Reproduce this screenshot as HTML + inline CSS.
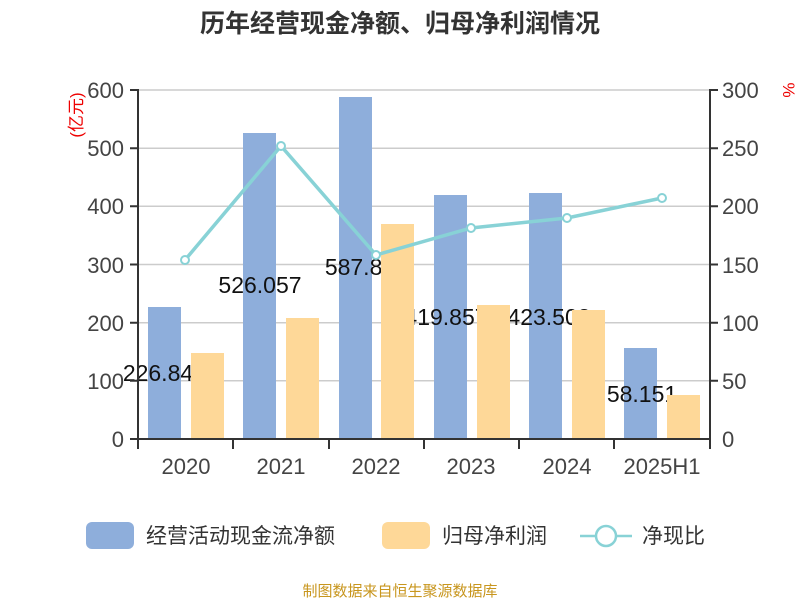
<!DOCTYPE html>
<html><head><meta charset="utf-8"><style>body{margin:0;background:#fff}svg{display:block}</style></head><body>
<svg width="800" height="600" xmlns="http://www.w3.org/2000/svg" font-family="Liberation Sans, Noto Sans CJK SC, sans-serif">
<rect width="800" height="600" fill="#fff"/>
<text x="400" y="32" text-anchor="middle" font-size="25" font-weight="bold" fill="#333">历年经营现金净额、归母净利润情况</text>
<g stroke="#ccc" stroke-width="1.5">
<line x1="138" y1="90" x2="710" y2="90"/><line x1="138" y1="148.2" x2="710" y2="148.2"/><line x1="138" y1="206.3" x2="710" y2="206.3"/><line x1="138" y1="264.5" x2="710" y2="264.5"/><line x1="138" y1="322.7" x2="710" y2="322.7"/><line x1="138" y1="380.8" x2="710" y2="380.8"/>
</g>
<g fill="#8eaedb">
<rect x="148" y="307" width="33" height="132"/><rect x="243" y="133" width="33" height="306"/><rect x="339" y="97" width="33" height="342"/><rect x="434" y="195" width="33" height="244"/><rect x="529" y="193" width="33" height="246"/><rect x="624" y="348" width="33" height="91"/>
</g>
<g font-size="23" fill="#111" text-anchor="middle">
<text x="158" y="381">226.84</text><text x="260" y="293">526.057</text><text x="360" y="275">587.82</text><text x="446" y="325">419.857</text><text x="549" y="325">423.503</text><text x="642" y="402">58.151</text>
</g>
<g fill="#fed898">
<rect x="191" y="353" width="33" height="86"/><rect x="286" y="318" width="33" height="121"/><rect x="381" y="224" width="33" height="215"/><rect x="477" y="305" width="33" height="134"/><rect x="572" y="310" width="33" height="129"/><rect x="667" y="395" width="33" height="44"/>
</g>
<g stroke="#333" stroke-width="2" fill="none">
<line x1="138" y1="89" x2="138" y2="440"/><line x1="710" y1="89" x2="710" y2="440"/><line x1="137" y1="439" x2="711" y2="439"/>
<path d="M138 439v10M233 439v10M329 439v10M424 439v10M519 439v10M614 439v10M710 439v10"/>
<path d="M130 90h8M130 148.2h8M130 206.3h8M130 264.5h8M130 322.7h8M130 380.8h8M130 439h8"/>
<path d="M710 90h8M710 148.2h8M710 206.3h8M710 264.5h8M710 322.7h8M710 380.8h8"/>
</g>
<g font-size="22" fill="#444" text-anchor="end">
<text x="124" y="98">600</text><text x="124" y="156">500</text><text x="124" y="214">400</text><text x="124" y="273">300</text><text x="124" y="331">200</text><text x="124" y="389">100</text><text x="124" y="447">0</text>
</g>
<g font-size="22" fill="#444">
<text x="722" y="98">300</text><text x="722" y="156">250</text><text x="722" y="214">200</text><text x="722" y="273">150</text><text x="722" y="331">100</text><text x="722" y="389">50</text><text x="722" y="447">0</text>
</g>
<g font-size="22" fill="#444" text-anchor="middle">
<text x="186" y="474">2020</text><text x="281" y="474">2021</text><text x="376" y="474">2022</text><text x="471" y="474">2023</text><text x="567" y="474">2024</text><text x="662" y="474">2025H1</text>
</g>
<text transform="translate(82,115) rotate(-90)" font-size="17" fill="#e00" text-anchor="middle">(亿元)</text>
<text transform="translate(783,90) rotate(90)" font-size="17" fill="#e00" text-anchor="middle">%</text>
<polyline points="185,260 281,146 376,255 471,228 567,218 662,198" fill="none" stroke="#88d2d6" stroke-width="3.5"/>
<g fill="#fff" stroke="#88d2d6" stroke-width="2">
<circle cx="185" cy="260" r="4"/><circle cx="281" cy="146" r="4"/><circle cx="376" cy="255" r="4"/><circle cx="471" cy="228" r="4"/><circle cx="567" cy="218" r="4"/><circle cx="662" cy="198" r="4"/>
</g>
<rect x="86" y="522" width="48" height="27" rx="6" fill="#8eaedb"/>
<text x="146" y="543" font-size="21" fill="#333">经营活动现金流净额</text>
<rect x="382" y="522" width="48" height="27" rx="6" fill="#fed898"/>
<text x="442" y="543" font-size="21" fill="#333">归母净利润</text>
<line x1="580" y1="536" x2="632" y2="536" stroke="#88d2d6" stroke-width="2.5"/>
<circle cx="606" cy="536" r="10" fill="#fff" stroke="#88d2d6" stroke-width="2.5"/>
<text x="642" y="543" font-size="21" fill="#333">净现比</text>
<text x="400" y="596" text-anchor="middle" font-size="15" fill="#c8961e">制图数据来自恒生聚源数据库</text>
</svg>
</body></html>
